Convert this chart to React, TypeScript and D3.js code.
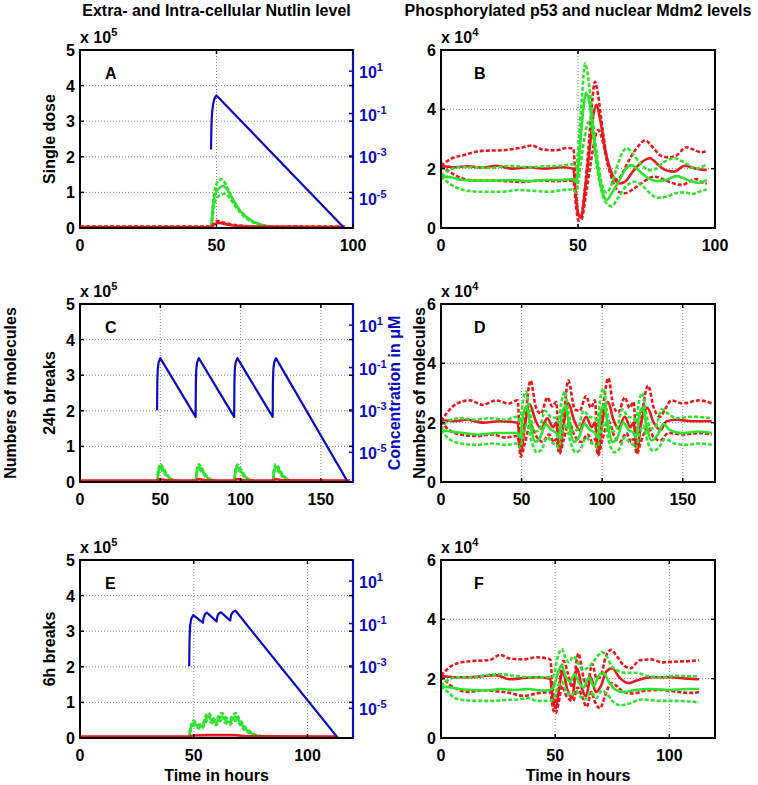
import React from "react";
import * as d3 from "d3";

type Pt = [number, number];

const FONT = "'Liberation Sans', Arial, Helvetica, sans-serif";
const RED = "#e8191c";
const GREEN = "#2ee32e";
const BLUE = "#0b0bc6";
const GRID = "#8a8a8a";

// ---------- panel A: single dose (molecules x1e5, blue = extracellular uM) ----------
const aGreenHi: Pt[] = [[0, 0], [48, 0], [48.6, 0.6], [49.5, 1.1], [50.5, 1.3], [51.8, 1.37], [53, 1.28], [55, 0.95], [58, 0.55], [62, 0.25], [66, 0.1], [72, 0.03], [80, 0.01], [97, 0]];
const aGreenMid: Pt[] = [[0, 0], [48, 0], [48.6, 0.5], [49.5, 0.95], [51, 1.12], [52.5, 1.18], [54, 1.08], [56, 0.8], [59, 0.45], [63, 0.2], [67, 0.08], [73, 0.02], [80, 0.01], [97, 0]];
const aGreenLo: Pt[] = [[0, 0], [48, 0], [48.7, 0.4], [49.7, 0.8], [51.5, 0.93], [53, 0.96], [54.5, 0.87], [57, 0.6], [60, 0.33], [64, 0.14], [68, 0.05], [75, 0.01], [97, 0]];
const aRedHi: Pt[] = [[0, 0.04], [48, 0.04], [49, 0.12], [50.3, 0.2], [52, 0.17], [55, 0.11], [60, 0.06], [66, 0.04], [97, 0.04]];
const aRedMid: Pt[] = [[0, 0.03], [48, 0.03], [49, 0.09], [50.5, 0.15], [52.5, 0.12], [56, 0.07], [62, 0.04], [97, 0.03]];
const aBlue: Pt[] = [[48, 2.0e-3], [48.15, 0.03], [48.4, 0.12], [48.8, 0.3], [49.3, 0.52], [50, 0.72], [97.2, 3.5e-7]];

// ---------- panel C: 24h breaks ----------
const cGreenHi: Pt[] = [[0, 0], [48, 0], [48.8, 0.35], [50, 0.5], [51.5, 0.42], [54, 0.22], [57, 0.08], [62, 0.01], [72, 0], [72.8, 0.36], [74, 0.5], [75.5, 0.42], [78, 0.22], [81, 0.08], [86, 0.01], [96, 0], [96.8, 0.35], [98, 0.49], [99.5, 0.41], [102, 0.22], [105, 0.08], [110, 0.01], [120, 0], [120.8, 0.36], [122, 0.5], [123.5, 0.42], [126, 0.22], [129, 0.08], [134, 0.01], [168, 0]];
const cGreenMid: Pt[] = [[0, 0], [48, 0], [48.8, 0.3], [50, 0.43], [51.5, 0.36], [54, 0.19], [57, 0.07], [62, 0.01], [72, 0], [72.8, 0.31], [74, 0.43], [75.5, 0.36], [78, 0.19], [81, 0.07], [86, 0.01], [96, 0], [96.8, 0.3], [98, 0.42], [99.5, 0.35], [102, 0.19], [105, 0.07], [110, 0.01], [120, 0], [120.8, 0.31], [122, 0.43], [123.5, 0.36], [126, 0.19], [129, 0.07], [134, 0.01], [168, 0]];
const cGreenLo: Pt[] = [[0, 0], [48, 0], [48.8, 0.25], [50, 0.36], [51.5, 0.3], [54, 0.16], [57, 0.06], [62, 0.01], [72, 0], [72.8, 0.26], [74, 0.36], [75.5, 0.3], [78, 0.16], [81, 0.06], [86, 0.01], [96, 0], [96.8, 0.25], [98, 0.35], [99.5, 0.3], [102, 0.16], [105, 0.06], [110, 0.01], [120, 0], [120.8, 0.26], [122, 0.36], [123.5, 0.3], [126, 0.16], [129, 0.06], [134, 0.01], [168, 0]];
const cRed: Pt[] = [[0, 0.04], [48, 0.04], [50, 0.08], [54, 0.05], [72, 0.04], [74, 0.08], [78, 0.05], [96, 0.04], [98, 0.08], [102, 0.05], [120, 0.04], [122, 0.08], [126, 0.05], [168, 0.04]];
const cBlue: Pt[] = [[48, 9.8e-4], [48.15, 0.02], [48.4, 0.08], [48.9, 0.17], [50, 0.28], [72, 4.7e-4], [72.15, 0.02], [72.4, 0.08], [72.9, 0.17], [74, 0.28], [96, 4.7e-4], [96.15, 0.02], [96.4, 0.08], [96.9, 0.17], [98, 0.28], [120, 4.7e-4], [120.15, 0.02], [120.4, 0.08], [120.9, 0.17], [122, 0.28], [167.2, 3.5e-7]];

// ---------- panel E: 6h breaks ----------
const eGreenHi: Pt[] = [[0, 0], [47.8, 0], [48.6, 0.3], [49.8, 0.48], [51, 0.44], [52.5, 0.38], [54, 0.4], [55, 0.58], [56.3, 0.7], [57.8, 0.6], [59.8, 0.5], [61, 0.62], [62.3, 0.7], [63.8, 0.6], [65.8, 0.52], [67, 0.62], [68.3, 0.7], [70, 0.55], [72, 0.35], [75, 0.17], [79, 0.06], [85, 0.01], [113, 0]];
const eGreenMid: Pt[] = [[0, 0], [47.8, 0], [48.6, 0.26], [49.8, 0.41], [51, 0.37], [52.5, 0.32], [54, 0.34], [55, 0.5], [56.3, 0.6], [57.8, 0.51], [59.8, 0.43], [61, 0.53], [62.3, 0.6], [63.8, 0.51], [65.8, 0.44], [67, 0.53], [68.3, 0.6], [70, 0.47], [72, 0.3], [75, 0.14], [79, 0.05], [85, 0.01], [113, 0]];
const eGreenLo: Pt[] = [[0, 0], [47.8, 0], [48.6, 0.22], [49.8, 0.35], [51, 0.32], [52.5, 0.27], [54, 0.29], [55, 0.42], [56.3, 0.5], [57.8, 0.43], [59.8, 0.36], [61, 0.45], [62.3, 0.5], [63.8, 0.43], [65.8, 0.37], [67, 0.45], [68.3, 0.5], [70, 0.4], [72, 0.25], [75, 0.12], [79, 0.04], [85, 0.01], [113, 0]];
const eRed: Pt[] = [[0, 0.04], [48, 0.04], [50, 0.07], [56, 0.08], [62, 0.08], [68, 0.08], [74, 0.05], [113, 0.04]];
const eBlue: Pt[] = [[48, 9.8e-4], [48.15, 0.02], [48.4, 0.08], [48.9, 0.17], [49.8, 0.25], [54, 0.11], [54.4, 0.2], [55, 0.28], [55.8, 0.33], [60, 0.125], [60.4, 0.22], [61, 0.3], [62, 0.34], [66, 0.14], [66.4, 0.25], [67.2, 0.35], [68.4, 0.4], [113.8, 3.5e-7]];

// ---------- panel B: p53 / Mdm2, single dose (x1e4) ----------
const bRedHi: Pt[] = [[0, 2.1], [4, 2.35], [8, 2.45], [15, 2.6], [22, 2.62], [30, 2.72], [33, 2.78], [37, 2.65], [42, 2.62], [46, 2.7], [48.3, 2.68], [49.3, 1.2], [50.1, 0.45], [51, 0.35], [52.5, 1.3], [54, 2.9], [55.2, 4.3], [56.2, 4.93], [57.3, 4.5], [59, 3.3], [61, 2.1], [63, 1.7], [64.5, 1.62], [66.5, 1.9], [69, 2.35], [71.5, 2.7], [74.5, 2.95], [77.5, 2.7], [80, 2.45], [83, 2.38], [86, 2.45], [89.5, 2.72], [92, 2.65], [95, 2.55], [97, 2.6]];
const bRedMid: Pt[] = [[0, 2.1], [5, 2.05], [10, 2.08], [15, 2.03], [20, 2.1], [26, 2.0], [32, 2.05], [38, 2.0], [44, 2.05], [48.3, 2.0], [49.3, 1.0], [50.2, 0.45], [51.2, 0.4], [52.7, 1.4], [54.3, 2.7], [55.6, 3.8], [56.8, 4.15], [58, 3.7], [60, 2.6], [62.5, 1.8], [65, 1.5], [67, 1.55], [70, 1.9], [73, 2.2], [76.3, 2.35], [79, 2.15], [82, 1.95], [85, 1.9], [89, 2.1], [93, 2.0], [97, 1.95]];
const bRedLo: Pt[] = [[0, 2.1], [3, 1.9], [7, 1.7], [12, 1.6], [18, 1.6], [24, 1.58], [30, 1.55], [36, 1.6], [42, 1.58], [48.3, 1.6], [49.3, 0.7], [50.2, 0.25], [51.2, 0.28], [53, 1.2], [55, 2.4], [56.5, 3.15], [57.4, 3.3], [58.5, 3.1], [60.5, 2.3], [63, 1.5], [65, 1.22], [67, 1.17], [70, 1.3], [73, 1.5], [78, 1.73], [82, 1.6], [85, 1.5], [88, 1.45], [91, 1.58], [93, 1.65], [95, 1.55], [97, 1.5]];
const bGreenHi: Pt[] = [[0, 1.75], [3, 1.95], [6, 2.05], [12, 2.05], [18, 2.02], [25, 2.1], [32, 2.05], [38, 2.08], [44, 2.1], [48.3, 2.15], [49.3, 2.05], [50.3, 3.0], [51.5, 4.5], [52.6, 5.55], [53.7, 5.1], [55.2, 3.8], [57, 2.4], [58.8, 1.45], [60.3, 1.2], [62, 1.4], [64, 2.0], [66, 2.5], [67.8, 2.69], [70, 2.5], [73, 2.15], [76, 1.95], [78, 1.98], [81, 2.2], [85, 2.35], [89, 2.2], [93, 2.0], [95, 2.05], [97, 2.15]];
const bGreenMid: Pt[] = [[0, 1.75], [4, 1.7], [8, 1.62], [14, 1.6], [20, 1.6], [26, 1.62], [32, 1.58], [38, 1.62], [44, 1.62], [48.3, 1.65], [49.3, 1.55], [50.4, 2.4], [51.7, 3.8], [53, 4.55], [54.2, 4.2], [55.8, 3.0], [57.8, 1.7], [59.5, 1.05], [60.5, 0.95], [62.5, 1.2], [65, 1.6], [67.5, 2.0], [69.5, 2.12], [72, 1.95], [75, 1.72], [79, 1.58], [82, 1.62], [86, 1.75], [90, 1.62], [94, 1.52], [97, 1.62]];
const bGreenLo: Pt[] = [[0, 1.75], [3, 1.5], [6, 1.35], [10, 1.25], [16, 1.22], [22, 1.22], [28, 1.28], [34, 1.25], [40, 1.22], [44, 1.28], [48.3, 1.3], [49.3, 1.2], [50.6, 1.9], [52.3, 3.0], [54, 3.58], [55.3, 3.2], [57, 2.0], [59, 1.1], [61, 0.78], [62.3, 0.73], [64.5, 1.0], [67, 1.35], [70.7, 1.56], [73.5, 1.42], [76, 1.2], [79, 1.02], [82, 1.05], [86, 1.18], [89, 1.2], [92, 1.15], [95, 1.25], [97, 1.3]];

// ---------- panel D: 24h breaks ----------
const dRedHi: Pt[] = [[0, 2.05], [4, 2.35], [10, 2.65], [18, 2.75], [26, 2.6], [34, 2.75], [42, 2.65], [47.5, 2.75], [49.5, 0.95], [52, 2.0], [55.5, 3.42], [59, 2.5], [62, 2.3], [66, 2.85], [69, 2.55], [71.5, 2.7], [73.5, 1.0], [76, 2.1], [79, 3.42], [83, 2.45], [86, 2.4], [90, 2.9], [93, 2.5], [95.5, 2.75], [97.5, 0.95], [100, 2.2], [103.8, 3.5], [107, 2.55], [110, 2.35], [114, 2.85], [117, 2.5], [119.5, 2.7], [121.5, 1.0], [124, 2.0], [128.5, 3.25], [132, 2.5], [136, 2.2], [139, 2.45], [143, 2.75], [150, 2.65], [160, 2.75], [168, 2.65]];
const dRedMid: Pt[] = [[0, 2.1], [8, 2.05], [16, 2.1], [26, 2.0], [36, 2.05], [47.5, 2.0], [49.5, 1.05], [52, 1.9], [55, 2.62], [58.5, 2.1], [62, 1.8], [66, 2.15], [69.5, 1.85], [71.5, 2.0], [73.5, 1.05], [76, 1.9], [79, 2.65], [82.5, 2.1], [86, 1.75], [90, 2.2], [93.5, 1.85], [95.5, 2.0], [97.5, 1.0], [100, 2.0], [103.5, 2.7], [107, 2.1], [110, 1.8], [114, 2.2], [117.5, 1.85], [119.5, 2.0], [121.5, 1.05], [124, 1.95], [128, 2.5], [132, 2.0], [136, 1.75], [140, 2.05], [146, 2.1], [156, 2.05], [168, 2.05]];
const dRedLo: Pt[] = [[0, 2.05], [5, 1.75], [12, 1.6], [22, 1.55], [32, 1.6], [40, 1.5], [47.5, 1.55], [49.5, 0.85], [52, 1.3], [55.5, 1.95], [59, 1.55], [63, 1.35], [67, 1.6], [70, 1.35], [71.5, 1.45], [73.5, 0.95], [76, 1.4], [79.5, 2.0], [83, 1.55], [87, 1.35], [91, 1.6], [94, 1.35], [95.5, 1.45], [97.5, 0.9], [100, 1.4], [104, 2.05], [107.5, 1.55], [111, 1.35], [115, 1.65], [118, 1.35], [119.5, 1.45], [121.5, 0.95], [124, 1.35], [128.5, 1.85], [132, 1.5], [136, 1.4], [141, 1.65], [150, 1.6], [160, 1.65], [168, 1.6]];
const dGreenHi: Pt[] = [[0, 1.75], [4, 2.05], [12, 2.15], [20, 2.1], [30, 2.15], [40, 2.1], [47.5, 2.2], [49, 2.0], [50.5, 2.6], [52.6, 3.05], [55, 2.4], [58, 1.7], [61, 1.75], [64.5, 2.4], [68, 2.2], [71.5, 2.15], [73, 2.0], [74.5, 2.6], [76.8, 3.05], [79, 2.4], [82, 1.7], [85, 1.8], [88.5, 2.4], [92, 2.2], [95.5, 2.15], [97, 2.0], [98.5, 2.7], [100.8, 3.15], [103, 2.4], [106, 1.7], [109, 1.8], [112.5, 2.45], [116, 2.2], [119.5, 2.15], [121, 2.0], [122.5, 2.6], [124.8, 3.0], [127, 2.4], [130, 1.8], [133, 1.85], [137, 2.45], [141, 2.3], [146, 2.15], [156, 2.2], [168, 2.15]];
const dGreenMid: Pt[] = [[0, 1.75], [6, 1.7], [14, 1.65], [24, 1.6], [34, 1.65], [47.5, 1.65], [49, 1.5], [50.8, 2.2], [53, 2.55], [55.5, 1.9], [58.5, 1.35], [61.5, 1.5], [65, 1.95], [68.5, 1.75], [71.5, 1.65], [73, 1.5], [74.8, 2.2], [77, 2.55], [79.5, 1.9], [82.5, 1.35], [85.5, 1.5], [89, 1.95], [92.5, 1.75], [95.5, 1.65], [97, 1.5], [98.8, 2.25], [101, 2.6], [103.5, 1.9], [106.5, 1.35], [109.5, 1.5], [113, 2.0], [116.5, 1.75], [119.5, 1.65], [121, 1.5], [122.8, 2.2], [125, 2.5], [127.5, 1.9], [130.5, 1.4], [134, 1.55], [138, 1.95], [142, 1.75], [150, 1.65], [160, 1.7], [168, 1.65]];
const dGreenLo: Pt[] = [[0, 1.75], [5, 1.45], [12, 1.3], [22, 1.25], [32, 1.3], [40, 1.25], [47.5, 1.3], [49, 1.15], [51, 1.6], [53.5, 1.95], [56, 1.4], [59.5, 1.0], [62.5, 1.1], [66, 1.5], [69.5, 1.3], [71.5, 1.25], [73, 1.15], [75, 1.6], [77.5, 1.95], [80, 1.4], [83.5, 1.0], [86.5, 1.1], [90, 1.5], [93.5, 1.3], [95.5, 1.25], [97, 1.15], [99, 1.65], [101.5, 2.0], [104, 1.4], [107.5, 1.0], [110.5, 1.1], [114, 1.5], [117.5, 1.3], [119.5, 1.25], [121, 1.15], [123, 1.6], [125.5, 1.9], [128, 1.4], [131.5, 1.05], [135, 1.15], [139, 1.45], [145, 1.3], [152, 1.25], [160, 1.3], [168, 1.25]];

// ---------- panel F: 6h breaks ----------
const fRedHi: Pt[] = [[0, 2.1], [4, 2.4], [9, 2.55], [15, 2.6], [21, 2.62], [26, 2.8], [30, 2.68], [36, 2.65], [42, 2.72], [47.8, 2.65], [49, 1.6], [50.2, 1.15], [51.5, 1.7], [53.6, 2.6], [55.5, 2.2], [57.5, 1.7], [60.2, 2.85], [62.5, 2.0], [64, 1.75], [66.2, 2.5], [68.2, 2.0], [70, 2.1], [72, 2.7], [74.5, 2.97], [77, 2.75], [80, 2.45], [83, 2.35], [87, 2.62], [92, 2.65], [97, 2.55], [104, 2.58], [110, 2.6], [113, 2.62]];
const fRedMid: Pt[] = [[0, 2.1], [6, 2.05], [12, 2.05], [18, 2.08], [24, 2.12], [30, 1.98], [36, 2.02], [42, 2.05], [47.8, 2.0], [49, 1.3], [50.3, 1.0], [51.6, 1.6], [53.3, 2.25], [55.3, 1.65], [57.3, 1.35], [59.6, 2.35], [61.8, 1.65], [63.5, 1.4], [65.6, 2.05], [67.8, 1.55], [70, 1.75], [72.5, 2.25], [75, 2.35], [78, 2.05], [82, 1.85], [86, 1.95], [92, 2.05], [100, 2.05], [108, 2.0], [113, 1.98]];
const fRedLo: Pt[] = [[0, 2.1], [3, 1.85], [7, 1.65], [12, 1.55], [18, 1.6], [24, 1.58], [30, 1.52], [36, 1.42], [42, 1.5], [47.8, 1.55], [49, 1.0], [50.2, 0.83], [51.5, 1.2], [53.2, 1.75], [55, 1.4], [57.9, 1.25], [59.8, 1.7], [61.5, 1.45], [63.8, 1.05], [65.8, 1.55], [67.5, 1.2], [69.6, 1.0], [72, 1.45], [74.5, 1.85], [77, 1.75], [80, 1.55], [84, 1.5], [90, 1.6], [96, 1.62], [104, 1.55], [110, 1.52], [113, 1.55]];
const fGreenHi: Pt[] = [[0, 1.75], [3, 1.95], [7, 2.05], [14, 2.05], [20, 2.12], [26, 2.15], [32, 2.1], [38, 2.05], [44, 2.05], [47.8, 2.05], [49.2, 2.1], [51, 2.7], [52.9, 3.0], [54.5, 2.7], [56, 2.55], [58, 2.75], [60, 2.55], [62, 2.3], [64.8, 2.4], [67, 2.6], [69, 2.8], [70.5, 2.9], [72.5, 2.75], [75, 2.4], [78, 2.25], [81, 2.2], [85, 2.2], [90, 2.1], [96, 2.05], [104, 2.1], [110, 2.08], [113, 2.1]];
const fGreenMid: Pt[] = [[0, 1.75], [4, 1.7], [8, 1.65], [14, 1.62], [20, 1.6], [26, 1.65], [32, 1.62], [38, 1.65], [44, 1.6], [47.8, 1.62], [49.2, 1.7], [51.2, 2.2], [52.8, 2.45], [54.5, 2.1], [56.5, 1.9], [58.5, 2.15], [60.5, 1.85], [62.5, 1.7], [64.8, 2.05], [66.8, 1.75], [69, 2.1], [71, 2.2], [73.5, 1.9], [76, 1.65], [80, 1.55], [85, 1.62], [92, 1.65], [100, 1.62], [108, 1.65], [113, 1.65]];
const fGreenLo: Pt[] = [[0, 1.75], [3, 1.55], [6, 1.35], [10, 1.28], [16, 1.25], [22, 1.25], [28, 1.28], [34, 1.3], [38, 1.35], [42, 1.25], [47.8, 1.25], [49.2, 1.3], [51.3, 1.75], [53, 1.9], [55, 1.55], [57.3, 1.45], [59, 1.6], [61, 1.4], [63, 1.3], [65.5, 1.55], [68, 1.35], [70.5, 1.6], [72.5, 1.5], [75, 1.25], [78.5, 1.1], [82, 1.15], [88, 1.3], [96, 1.25], [104, 1.25], [113, 1.2]];

const leftYTicks = [0, 1, 2, 3, 4, 5];
const rightYTicks = [0, 2, 4, 6];
const xTicks100 = [0, 50, 100];
const xTicks150 = [0, 50, 100, 150];
const blueTicks = [1e1, 1e-1, 1e-3, 1e-5];
const blueExps = ["1", "-1", "-3", "-5"];

type Series = { pts: Pt[]; color: string; dash?: boolean };

const L_X = 80, L_W = 273, R_X = 441, R_W = 274, H = 178;
const ROWS = [50, 304, 560];

function Panel(props: {
  id: string; x: number; y: number; w: number; xMax: number; xTicks: number[];
  yMax: number; yTicks: number[]; exp: string; letter: string; letterDx: number;
  lines: Series[]; blue?: Pt[];
}) {
  const { id, x, y, w, xMax, xTicks, yMax, yTicks, exp, letter, letterDx, lines, blue } = props;
  const h = H;
  const sx = d3.scaleLinear().domain([0, xMax]).range([x, x + w]);
  const sy = d3.scaleLinear().domain([0, yMax]).range([y + h, y]);
  const sb = d3.scaleLog().domain([Math.pow(10, -6.4), 100]).range([y + h, y]);
  const line = d3.line<Pt>().x((d) => sx(d[0])).y((d) => sy(d[1])).curve(d3.curveMonotoneX);
  const blueLine = d3.line<Pt>().x((d) => sx(d[0])).y((d) => sb(d[1]));

  return (
    <g>
      <defs>
        <clipPath id={id}>
          <rect x={x} y={y} width={w} height={h} />
        </clipPath>
      </defs>
      {/* grid */}
      {xTicks.filter((t) => t > 0 && t < xMax).map((t) => (
        <line key={"gx" + t} x1={sx(t)} x2={sx(t)} y1={y} y2={y + h} stroke={GRID} strokeWidth={1} strokeDasharray="1,2" />
      ))}
      {yTicks.filter((t) => t > 0 && t < yMax).map((t) => (
        <line key={"gy" + t} x1={x} x2={x + w} y1={sy(t)} y2={sy(t)} stroke={GRID} strokeWidth={1} strokeDasharray="1,2" />
      ))}
      <g clipPath={`url(#${id})`}>
        {lines.map((s, i) => (
          <path key={i} d={line(s.pts) || ""} fill="none" stroke={s.color} strokeWidth={2.6}
            strokeDasharray={s.dash ? "4,2" : undefined} strokeLinejoin="round" />
        ))}
        {blue && <path d={blueLine(blue) || ""} fill="none" stroke={BLUE} strokeWidth={2.2} strokeLinejoin="round" />}
      </g>
      {/* box */}
      <rect x={x} y={y} width={w} height={h} fill="none" stroke="#000" strokeWidth={2} />
      {blue && <line x1={x + w} x2={x + w} y1={y - 1} y2={y + h + 1} stroke={BLUE} strokeWidth={2.2} />}
      {/* ticks */}
      {xTicks.map((t) => (
        <g key={"tx" + t}>
          <line x1={sx(t)} x2={sx(t)} y1={y + h} y2={y + h - 4} stroke="#000" strokeWidth={1.5} />
          <line x1={sx(t)} x2={sx(t)} y1={y} y2={y + 4} stroke="#000" strokeWidth={1.5} />
          <text x={sx(t)} y={y + h + 23} textAnchor="middle" fontSize={16} fontWeight="bold" fontFamily={FONT}>{t}</text>
        </g>
      ))}
      {yTicks.map((t) => (
        <g key={"ty" + t}>
          <line x1={x} x2={x + 4} y1={sy(t)} y2={sy(t)} stroke="#000" strokeWidth={1.5} />
          <line x1={x + w} x2={x + w - 4} y1={sy(t)} y2={sy(t)} stroke="#000" strokeWidth={1.5} />
          <text x={x - 5} y={sy(t) + 6} textAnchor="end" fontSize={16} fontWeight="bold" fontFamily={FONT}>{t}</text>
        </g>
      ))}
      {blue && blueTicks.map((t, i) => (
        <g key={"tb" + i}>
          <line x1={x + w} x2={x + w - 4} y1={sb(t)} y2={sb(t)} stroke={BLUE} strokeWidth={1.5} />
          <text x={x + w + 6} y={sb(t) + 7} fontSize={16} fontWeight="bold" fontFamily={FONT} fill={BLUE}>
            10<tspan dy={-7} fontSize={11}>{blueExps[i]}</tspan>
          </text>
        </g>
      ))}
      <text x={x} y={y - 7} fontSize={16} fontWeight="bold" fontFamily={FONT}>
        x 10<tspan dy={-7} fontSize={11}>{exp}</tspan>
      </text>
      <text x={x + letterDx} y={y + 29} fontSize={16} fontWeight="bold" fontFamily={FONT}>{letter}</text>
    </g>
  );
}

const g = (pts: Pt[], dash = false): Series => ({ pts, color: GREEN, dash });
const r = (pts: Pt[], dash = false): Series => ({ pts, color: RED, dash });

export default function App() {
  const lx = L_X + L_W / 2;
  const rx = R_X + R_W / 2;
  const midRow = ROWS[1] + H / 2;
  const txt = { fontFamily: FONT, fontWeight: "bold" as const, fontSize: 16 };
  return (
    <div style={{ width: 758, height: 785 }}>
      <style>{"body{margin:0}"}</style>
      <svg width={758} height={785} style={{ display: "block", background: "#fff" }}>
        <text x={lx} y={16} textAnchor="middle" {...txt}>Extra- and Intra-cellular Nutlin level</text>
        <text x={rx} y={16} textAnchor="middle" {...txt}>Phosphorylated p53 and nuclear Mdm2 levels</text>

        <Panel id="cA" x={L_X} y={ROWS[0]} w={L_W} xMax={100} xTicks={xTicks100} yMax={5} yTicks={leftYTicks} exp="5" letter="A" letterDx={25}
          lines={[g(aGreenHi, true), g(aGreenLo, true), g(aGreenMid), r(aRedHi, true), r(aRedMid)]} blue={aBlue} />
        <Panel id="cB" x={R_X} y={ROWS[0]} w={R_W} xMax={100} xTicks={xTicks100} yMax={6} yTicks={rightYTicks} exp="4" letter="B" letterDx={33}
          lines={[r(bRedHi, true), r(bRedLo, true), r(bRedMid), g(bGreenHi, true), g(bGreenLo, true), g(bGreenMid)]} />
        <Panel id="cC" x={L_X} y={ROWS[1]} w={L_W} xMax={170} xTicks={xTicks150} yMax={5} yTicks={leftYTicks} exp="5" letter="C" letterDx={25}
          lines={[g(cGreenHi, true), g(cGreenLo, true), g(cGreenMid), r(cRed)]} blue={cBlue} />
        <Panel id="cD" x={R_X} y={ROWS[1]} w={R_W} xMax={170} xTicks={xTicks150} yMax={6} yTicks={rightYTicks} exp="4" letter="D" letterDx={33}
          lines={[r(dRedHi, true), r(dRedLo, true), r(dRedMid), g(dGreenHi, true), g(dGreenLo, true), g(dGreenMid)]} />
        <Panel id="cE" x={L_X} y={ROWS[2]} w={L_W} xMax={120} xTicks={xTicks100} yMax={5} yTicks={leftYTicks} exp="5" letter="E" letterDx={25}
          lines={[g(eGreenHi, true), g(eGreenLo, true), g(eGreenMid), r(eRed)]} blue={eBlue} />
        <Panel id="cF" x={R_X} y={ROWS[2]} w={R_W} xMax={120} xTicks={xTicks100} yMax={6} yTicks={rightYTicks} exp="4" letter="F" letterDx={33}
          lines={[r(fRedHi, true), r(fRedLo, true), r(fRedMid), g(fGreenHi, true), g(fGreenLo, true), g(fGreenMid)]} />

        {/* row labels */}
        <text transform={`translate(55,${ROWS[0] + H / 2}) rotate(-90)`} textAnchor="middle" {...txt}>Single dose</text>
        <text transform={`translate(55,${ROWS[1] + H / 2}) rotate(-90)`} textAnchor="middle" {...txt}>24h breaks</text>
        <text transform={`translate(55,${ROWS[2] + H / 2}) rotate(-90)`} textAnchor="middle" {...txt}>6h breaks</text>
        <text transform={`translate(16,${midRow}) rotate(-90)`} textAnchor="middle" {...txt}>Numbers of molecules</text>
        <text transform={`translate(400,${midRow}) rotate(-90)`} textAnchor="middle" {...txt} fill={BLUE}>Concentration in {"\u03bc"}M</text>
        <text transform={`translate(425,${midRow}) rotate(-90)`} textAnchor="middle" {...txt}>Numbers of molecules</text>

        <text x={lx} y={781} textAnchor="middle" {...txt}>Time in hours</text>
        <text x={rx} y={781} textAnchor="middle" {...txt}>Time in hours</text>
      </svg>
    </div>
  );
}
